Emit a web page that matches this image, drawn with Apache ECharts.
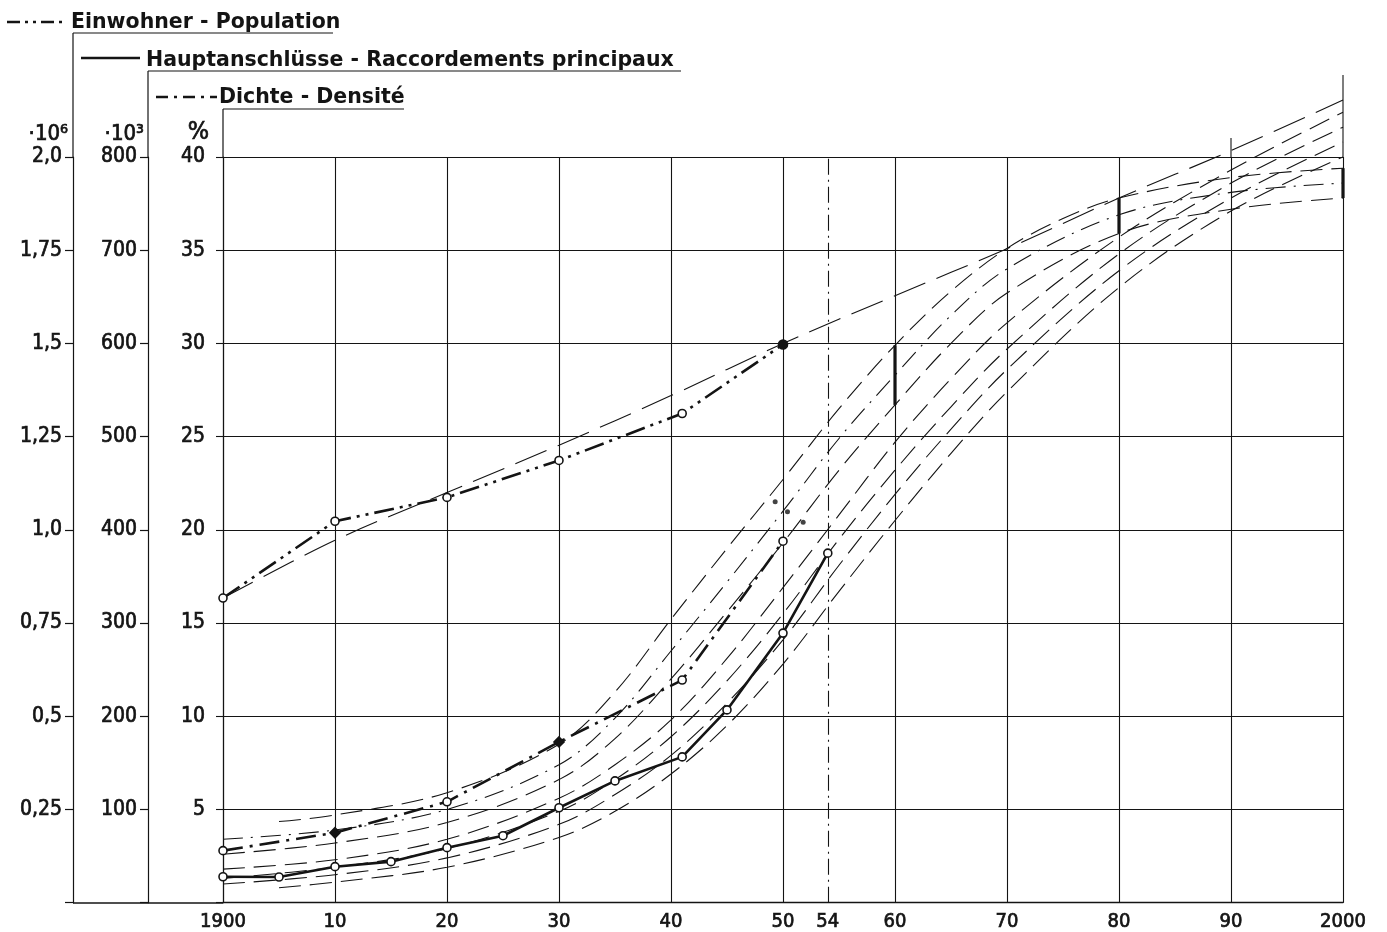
<!DOCTYPE html>
<html>
<head>
<meta charset="utf-8">
<script src="https://cdn.jsdelivr.net/npm/echarts@6/dist/echarts.min.js"></script>
<style>
  html, body { margin: 0; padding: 0; background: #fff; }
  #chart { width: 1387px; height: 932px; }
</style>
</head>
<body>
<div id="chart"></div>
<script>
// ---- observed values ----
// Einwohner / population, millions
const popYears = [1900, 1910, 1920, 1930, 1941, 1950];
const population = [0.817, 1.023, 1.087, 1.186, 1.312, 1.497];

// Hauptanschlüsse / main connections, thousands
const connYears = [1900, 1905, 1910, 1915, 1920, 1925, 1930, 1935, 1941, 1945, 1950, 1954];
const connections = [27.8, 27.5, 38.6, 44.0, 59.0, 71.8, 101.8, 130.6, 156.4, 206.8, 289.2, 375.0];

// Dichte / density, %
const densYears = [1900, 1910, 1920, 1930, 1941, 1950];
const density = [2.79, 3.75, 5.41, 8.62, 11.94, 19.39];

// ---- trend and forecast curves ----
// population trend, millions
const popTrendYears = [1900, 1910, 1920, 1930, 1940, 1950, 1960, 1970, 1980, 1990, 2000];
const popTrend = [0.817, 0.972, 1.100, 1.227, 1.360, 1.500, 1.628, 1.754, 1.890, 2.017, 2.153];

// connection forecasts, thousands
const connFcYears = [1900, 1910, 1920, 1930, 1935, 1940, 1945, 1950, 1955, 1960, 1965, 1970, 1980, 1990, 2000];
const connFc1 = [36, 46, 68, 112, 148, 196, 262, 338, 416, 494, 562, 622, 714, 786, 848];
const connFc2 = [26, 38, 58, 98, 132, 178, 238, 310, 390, 464, 532, 594, 696, 772, 832];
const connFc3 = [20, 30, 48, 84, 116, 158, 214, 282, 362, 438, 508, 572, 678, 756, 816];
const connFc4Years = [1905, 1910, 1920, 1930, 1935, 1940, 1945, 1950, 1955, 1960, 1965, 1970, 1980, 1990, 2000];
const connFc4 = [16, 22, 38, 70, 98, 138, 190, 256, 334, 410, 482, 548, 660, 742, 800];

// density forecasts, %
const densFc1Years = [1905, 1910, 1920, 1930, 1935, 1940, 1945, 1950, 1955, 1960, 1965, 1970, 1975, 1980, 1990, 2000];
const densFc1 = [4.35, 4.7, 5.9, 8.5, 11.3, 15.2, 19.0, 22.7, 26.5, 29.9, 32.8, 35.1, 36.7, 37.8, 38.9, 39.4];
const densFcYears = [1900, 1910, 1920, 1930, 1935, 1940, 1945, 1950, 1955, 1960, 1965, 1970, 1980, 1990, 2000];
const densFc2 = [3.4, 3.9, 5.0, 7.4, 9.9, 13.5, 17.2, 21.0, 24.9, 28.3, 31.5, 34.0, 36.9, 38.1, 38.6];
const densFc3 = [2.6, 3.2, 4.3, 6.6, 8.8, 12.0, 15.6, 19.3, 23.2, 26.7, 30.0, 32.7, 35.9, 37.2, 37.8];

// forecast density ranges: [year, low %, high %]
const densRanges = [[1960, 26.7, 29.9], [1980, 35.9, 37.8], [2000, 37.8, 39.4]];

// single density readings around 1950, %
const densDots = [[1949.3, 21.5], [1950.4, 20.97], [1951.8, 20.4]];

// axis ticks
const markYear = 1954;

// ---- layout ----
const GRID = { left: 223, right: 44, top: 157, bottom: 29 };
const INK = '#141414';
const FONT_FAMILY = '"DejaVu Sans Condensed", "DejaVu Sans", sans-serif';
const LEGEND_FONT = 'bold 20.5px "DejaVu Sans", sans-serif';

const pairs = (xs, ys) => xs.map((x, i) => [x, ys[i]]);
const comma = (v) => String(v).replace('.', ',');

const openMarker = { color: '#fff', borderColor: INK, borderWidth: 1.6 };

function dataLine(name, data, yAxisIndex, dash, extra) {
  return Object.assign({
    name, type: 'line', xAxisIndex: 0, yAxisIndex, data,
    symbol: 'circle', symbolSize: 8, showSymbol: true, clip: false,
    lineStyle: { color: INK, width: 2.6, type: dash },
    itemStyle: openMarker, z: 10, animation: false, silent: true
  }, extra || {});
}

function fcLine(data, yAxisIndex, dash) {
  return {
    type: 'line', xAxisIndex: 0, yAxisIndex, data, smooth: 0.35,
    symbol: 'none', clip: false, z: 4, animation: false, silent: true,
    lineStyle: { color: INK, width: 1.1, type: dash || [22, 9] }
  };
}

const chart = echarts.init(document.getElementById('chart'), null, { renderer: 'canvas' });

const popData = pairs(popYears, population).map((p, i, arr) =>
  i === arr.length - 1 ? { value: p, symbolSize: 9, itemStyle: { color: INK, borderColor: INK } } : p);
const densData = pairs(densYears, density).map((p) =>
  (p[0] === 1910 || p[0] === 1930) ? { value: p, symbol: 'diamond', symbolSize: 10, itemStyle: { color: INK, borderColor: INK } } : p);

const yAxisCommon = {
  type: 'value', position: 'left', min: 0,
  axisLine: { show: true, onZero: false, lineStyle: { color: INK, width: 1.2 } },
  axisTick: { show: true, inside: false, length: 8, lineStyle: { color: INK, width: 1.2 } },
  splitLine: { show: false },
  nameLocation: 'end', nameGap: 12
};
const labelStyle = { color: INK, fontFamily: FONT_FAMILY, fontSize: 21, textBorderColor: INK, textBorderWidth: 0.7 };
const nameStyle = (size, pad) => ({
  color: INK, fontFamily: FONT_FAMILY, fontSize: size, align: 'right',
  textBorderColor: INK, textBorderWidth: 0.7, padding: [0, pad, 0, 0]
});

const option = {
  animation: false,
  backgroundColor: '#fff',
  grid: { left: GRID.left, right: GRID.right, top: GRID.top, bottom: GRID.bottom, containLabel: false },
  xAxis: [
    {
      type: 'value', min: 1900, max: 2000, interval: 10, position: 'bottom',
      axisLine: { show: true, onZero: false, lineStyle: { color: INK, width: 1.4 } },
      axisTick: { show: false },
      splitLine: { show: true, lineStyle: { color: INK, width: 1.1 } },
      axisLabel: Object.assign({}, labelStyle, {
        fontSize: 20, margin: 9,
        formatter: (v) => (v === 1900 || v === 2000) ? String(v) : String(v % 100)
      })
    },
    {
      type: 'value', min: 1900, max: 2000, interval: 2, position: 'bottom',
      axisLine: { show: false }, axisTick: { show: false }, splitLine: { show: false },
      axisLabel: Object.assign({}, labelStyle, {
        fontSize: 20, margin: 9,
        formatter: (v) => v === markYear ? String(v % 100) : ''
      })
    }
  ],
  yAxis: [
    Object.assign({}, yAxisCommon, {
      max: 2.0, interval: 0.25, offset: 150, name: '·10⁶',
      nameTextStyle: nameStyle(22, 5),
      axisLabel: Object.assign({}, labelStyle, { margin: 11,
        formatter: (v) => v === 0 ? '' : (Number.isInteger(v) ? v.toFixed(1).replace('.', ',') : comma(v)) })
    }),
    Object.assign({}, yAxisCommon, {
      max: 800, interval: 100, offset: 75, name: '·10³',
      nameTextStyle: nameStyle(22, 4),
      axisLabel: Object.assign({}, labelStyle, { margin: 11, formatter: (v) => v === 0 ? '' : String(v) })
    }),
    Object.assign({}, yAxisCommon, {
      max: 40, interval: 5, offset: 0, name: '%',
      axisTick: { show: true, length: 7, lineStyle: { color: INK, width: 1.1 } },
      splitLine: { show: true, lineStyle: { color: INK, width: 1.1 } },
      nameTextStyle: nameStyle(25, 14),
      axisLabel: Object.assign({}, labelStyle, { margin: 18, formatter: (v) => v === 0 ? '' : String(v) })
    })
  ],
  series: [
    // forecast bands
    fcLine(pairs(popTrendYears, popTrend), 0, [34, 12]),
    fcLine(pairs(connFcYears, connFc1), 1),
    fcLine(pairs(connFcYears, connFc2), 1),
    fcLine(pairs(connFcYears, connFc3), 1),
    fcLine(pairs(connFc4Years, connFc4), 1),
    fcLine(pairs(densFc1Years, densFc1), 2),
    fcLine(pairs(densFcYears, densFc2), 2, [20, 8, 2, 8]),
    fcLine(pairs(densFcYears, densFc3), 2),
    {
      type: 'custom', xAxisIndex: 0, yAxisIndex: 2, data: densRanges, z: 6, silent: true,
      renderItem: (params, api) => {
        const a = api.coord([api.value(0), api.value(1)]);
        const b = api.coord([api.value(0), api.value(2)]);
        return { type: 'line', shape: { x1: a[0], y1: a[1], x2: b[0], y2: b[1] },
                 style: { stroke: INK, lineWidth: 3.2 } };
      }
    },
    {
      type: 'scatter', xAxisIndex: 0, yAxisIndex: 2, data: densDots, symbolSize: 5,
      itemStyle: { color: INK }, z: 9, silent: true
    },
    // observed series
    dataLine('Einwohner - Population', popData, 0, [20, 6, 3, 6, 3, 6]),
    dataLine('Hauptanschlüsse - Raccordements principaux', pairs(connYears, connections), 1, 'solid'),
    dataLine('Dichte - Densité', densData, 2, [20, 7, 3, 7], {
      markLine: {
        silent: true, symbol: 'none', animation: false,
        label: { show: false },
        lineStyle: { color: INK, width: 1.1, type: [16, 5, 2, 5] },
        data: [{ xAxis: markYear }]
      }
    })
  ]
};

chart.setOption(option);

// frame extensions, legend entries and their leader lines
const H = 932;
const xOf = (yr) => chart.convertToPixel({ xAxisIndex: 0 }, yr);
const gridTop = GRID.top, gridBottom = H - GRID.bottom;
const popAxisX = GRID.left - 150, connAxisX = GRID.left - 75, densAxisX = GRID.left;

const ln = (x1, y1, x2, y2, w, dash) => ({
  type: 'line', silent: true, z: 20,
  shape: { x1, y1, x2, y2 },
  style: { stroke: INK, lineWidth: w || 1.2, lineDash: dash || null }
});
const txt = (text, x, y) => ({
  type: 'text', silent: true, z: 20,
  style: { text, x, y, fill: INK, font: LEGEND_FONT, textAlign: 'left', textVerticalAlign: 'bottom' }
});

const legendRows = [
  { label: 'Einwohner - Population', axisX: popAxisX, underY: 33, sample: [7, 67, 22], dash: [13, 5, 3, 5, 3, 5], textX: 71, textY: 33, end: 333 },
  { label: 'Hauptanschlüsse - Raccordements principaux', axisX: connAxisX, underY: 71, sample: [81, 140, 58], dash: null, textX: 146, textY: 71, end: 681 },
  { label: 'Dichte - Densité', axisX: densAxisX, underY: 109, sample: [156, 217, 97], dash: [12, 6, 3, 6], textX: 219, textY: 108, end: 404 }
];

const graphics = [];
legendRows.forEach((r) => {
  graphics.push(ln(r.sample[0], r.sample[2], r.sample[1], r.sample[2], 2.4, r.dash));
  graphics.push(txt(r.label, r.textX, r.textY));
  graphics.push(ln(r.axisX, r.underY, r.end, r.underY, 1.2));
  graphics.push(ln(r.axisX, r.underY, r.axisX, gridTop, 1.2));
});
// base line runs under all three scales
graphics.push(ln(popAxisX, gridBottom, GRID.left, gridBottom, 1.4));
// verticals continuing above the top grid line
graphics.push(ln(xOf(1990), 138, xOf(1990), gridTop, 1.1));
graphics.push(ln(xOf(2000), 75, xOf(2000), gridTop, 1.1));

chart.setOption({ graphic: graphics });
</script>
</body>
</html>
